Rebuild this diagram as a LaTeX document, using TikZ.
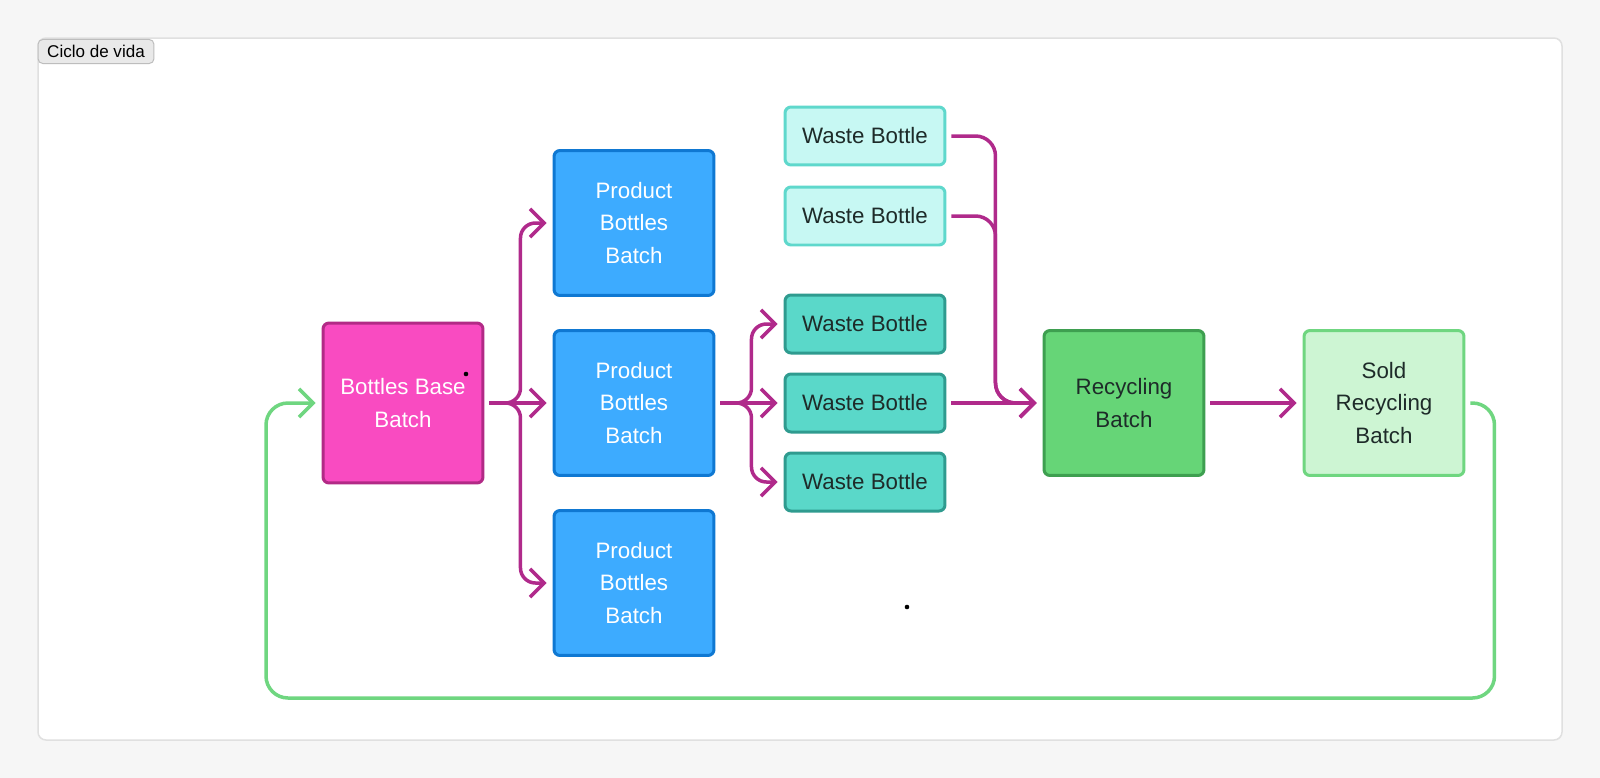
\documentclass[tikz,border=0pt]{standalone}
\usepackage{fontspec}
\setmainfont{Liberation Sans}
\usepackage{xcolor}
\usepackage{tikz}
\usetikzlibrary{arrows.meta,calc,positioning}
\definecolor{pagebg}{HTML}{F6F6F6}
\definecolor{panelline}{HTML}{E0E0E0}
\definecolor{btnfill}{HTML}{E9E9E9}
\definecolor{btndraw}{HTML}{BDBDBD}
\definecolor{basefill}{HTML}{F94BC1}
\definecolor{basedraw}{HTML}{B22A86}
\definecolor{prodfill}{HTML}{3DABFF}
\definecolor{proddraw}{HTML}{0F78D2}
\definecolor{wlightfill}{HTML}{C7F8F3}
\definecolor{wlightdraw}{HTML}{5FD8CC}
\definecolor{wdarkfill}{HTML}{5AD8C9}
\definecolor{wdarkdraw}{HTML}{2F9B8F}
\definecolor{recfill}{HTML}{66D577}
\definecolor{recdraw}{HTML}{3E9F50}
\definecolor{soldfill}{HTML}{CDF5D3}
\definecolor{solddraw}{HTML}{6FD680}
\definecolor{flowline}{HTML}{B02A8B}
\definecolor{darktext}{HTML}{1E2B29}

\begin{document}
\begin{tikzpicture}[x=.02cm,y=-.02cm,
  box/.style={rectangle,rounded corners=.12cm,line width=.06cm,minimum width=3.2cm,
    align=center,inner sep=0pt,font=\fontsize{12.7}{18.6}\selectfont},
  basebox/.style={box,fill=basefill,draw=basedraw,text=white,minimum height=3.2cm},
  prodbox/.style={box,fill=prodfill,draw=proddraw,text=white,minimum height=2.9cm},
  wastelight/.style={box,fill=wlightfill,draw=wlightdraw,text=darktext,minimum height=1.16cm},
  wastedark/.style={box,fill=wdarkfill,draw=wdarkdraw,text=darktext,minimum height=1.16cm},
  recbox/.style={box,fill=recfill,draw=recdraw,text=darktext,minimum height=2.9cm},
  soldbox/.style={box,fill=soldfill,draw=solddraw,text=darktext,minimum height=2.9cm},
  flow/.style={draw=flowline,line width=.07cm,rounded corners=.3cm,
    shorten <=.1cm,shorten >=.12cm,-{Straight Barb[length=8pt,width=16pt]}},
  backloop/.style={flow,draw=solddraw,rounded corners=.44cm}]
\fill[pagebg] (0,0) rectangle (1600,778);
\draw[panelline,fill=white,line width=.03cm,rounded corners=.16cm] (38,38) rectangle (1562,740);
\node[rectangle,rounded corners=.1cm,fill=btnfill,draw=btndraw,line width=.02cm,
  minimum width=2.32cm,minimum height=.48cm,font=\fontsize{9.7}{11}\selectfont] (lifecycle) at (96,51.5) {Ciclo de vida};

\node[basebox] (base) at (403,403) {Bottles Base\\Batch};
\node[prodbox] (prod1) at (634,223) {Product\\Bottles\\Batch};
\node[prodbox] (prod2) at (634,403) {Product\\Bottles\\Batch};
\node[prodbox] (prod3) at (634,583) {Product\\Bottles\\Batch};
\node[wastelight] (waste1) at (865,136) {Waste Bottle};
\node[wastelight] (waste2) at (865,216) {Waste Bottle};
\node[wastedark] (waste3) at (865,324) {Waste Bottle};
\node[wastedark] (waste4) at (865,403) {Waste Bottle};
\node[wastedark] (waste5) at (865,482) {Waste Bottle};
\node[recbox] (recyc) at (1124,403) {Recycling\\Batch};
\node[soldbox] (sold) at (1384,403) {Sold\\Recycling\\Batch};
\coordinate (loopbot) at (266,698);

\draw[flow] (base.east) -- ++(36,0) |- (prod1.west);
\draw[flow] (base.east) -- (prod2.west);
\draw[flow] (base.east) -- ++(36,0) |- (prod3.west);
\draw[flow] (prod2.east) -- ++(36,0) |- (waste3.west);
\draw[flow] (prod2.east) -- (waste4.west);
\draw[flow] (prod2.east) -- ++(36,0) |- (waste5.west);
\draw[flow,rounded corners=.4cm] (waste1.east) -- ++(49,0) |- (recyc.west);
\draw[flow,rounded corners=.4cm] (waste2.east) -- ++(49,0) |- (recyc.west);
\draw[flow] (waste4.east) -- (recyc.west);
\draw[flow] (recyc.east) -- (sold.west);
\draw[backloop] (sold.east) -- ++(29,0) |- (loopbot) |- (base.west);

\fill (466,374) circle[radius=1.3pt];
\fill (907,607) circle[radius=1.3pt];
\end{tikzpicture}
\end{document}
